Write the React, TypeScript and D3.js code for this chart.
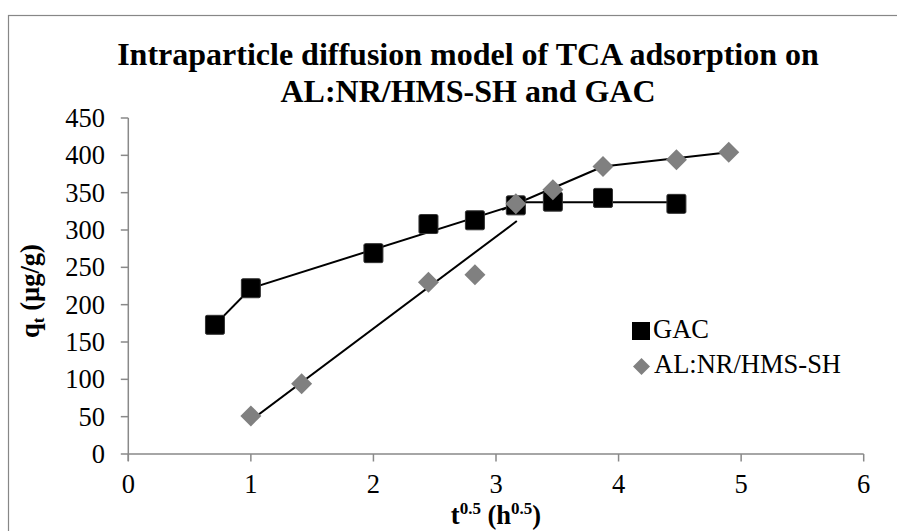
import React from "react";
import * as d3 from "d3";

const gacX = [0.707, 1, 2, 2.449, 2.828, 3.162, 3.464, 3.873, 4.472];
const gacY = [173, 222, 269, 308, 313, 333, 338, 343, 335];
const alX = [1, 1.414, 2.449, 2.828, 3.162, 3.464, 3.873, 4.472, 4.899];
const alY = [51, 94, 230, 240, 335, 354, 385, 394, 404];

// trend-line segments (start/end points)
const gacFitX = [[0.707, 1], [1, 3.162], [3.162, 4.472]];
const gacFitY = [[173, 222], [222, 334], [337, 337]];
const alFitX = [[1, 3.17], [3.05, 3.873], [3.873, 4.899]];
const alFitY = [[45, 312], [327, 385], [385, 404]];

const xTicks = [0, 1, 2, 3, 4, 5, 6];
const yTicks = [0, 50, 100, 150, 200, 250, 300, 350, 400, 450];

const titleLines = ["Intraparticle diffusion model of TCA adsorption on", "AL:NR/HMS-SH and GAC"];
const seriesNames = ["GAC", "AL:NR/HMS-SH"];

const W = 897;
const H = 531;
const FONT = "'Times New Roman', 'Liberation Serif', Tinos, 'DejaVu Serif', serif";
const AXIS = "#898989";
const TS = { fontFamily: FONT } as React.CSSProperties;

export default function App() {
  const x = d3.scaleLinear().domain([0, 6]).range([128.3, 863.7]);
  const y = d3.scaleLinear().domain([0, 450]).range([454, 118]);
  const line = d3
    .line<[number, number]>()
    .x((d) => x(d[0]))
    .y((d) => y(d[1]));

  const seg = (xs: number[], ys: number[]) =>
    line(xs.map((v, i) => [v, ys[i]] as [number, number])) || "";

  const sq = 19;
  const dm = 10.5;

  return (
    <svg
      width={W}
      height={H}
      style={{ position: "absolute", left: 0, top: 0, background: "#fff", fontFamily: FONT }}
    >
      <rect x={0} y={0} width={W} height={H} fill="#fff" />
      <rect x={8.5} y={15.5} width={1000} height={1000} fill="none" stroke="#878787" strokeWidth={1.2} />

      {/* title */}
      {titleLines.map((t, i) => (
        <text
          key={i}
          x={468}
          y={65 + i * 37}
          textAnchor="middle"
          fontWeight="bold"
          fontSize={32}
          fill="#000"
          style={TS}
        >
          {t}
        </text>
      ))}

      {/* axes */}
      <line x1={x(0)} x2={x(6)} y1={y(0)} y2={y(0)} stroke={AXIS} strokeWidth={1.5} />
      <line x1={x(0)} x2={x(0)} y1={y(450)} y2={y(0) + 7} stroke={AXIS} strokeWidth={1.5} />
      {xTicks.map((t) => (
        <g key={"xt" + t}>
          <line x1={x(t)} x2={x(t)} y1={y(0)} y2={y(0) + 7.5} stroke={AXIS} strokeWidth={1.5} />
          <text x={x(t)} y={493} textAnchor="middle" fontSize={26.5} fill="#000" style={TS}>
            {t}
          </text>
        </g>
      ))}
      {yTicks.map((t) => (
        <g key={"yt" + t}>
          <line x1={x(0) - 7.5} x2={x(0)} y1={y(t)} y2={y(t)} stroke={AXIS} strokeWidth={1.5} />
          <text x={105} y={y(t)} dy="0.34em" textAnchor="end" fontSize={26.5} fill="#000" style={TS}>
            {t}
          </text>
        </g>
      ))}

      {/* axis titles */}
      <text x={496} y={524} textAnchor="middle" fontWeight="bold" fontSize={26.5} fill="#000" style={TS}>
        t<tspan fontSize={17} dy={-10}>0.5</tspan>
        <tspan dy={10}> (h</tspan>
        <tspan fontSize={17} dy={-10}>0.5</tspan>
        <tspan dy={10}>)</tspan>
      </text>
      <text
        transform="translate(39,291) rotate(-90)"
        textAnchor="middle"
        fontWeight="bold"
        fontSize={26.5}
        fill="#000"
        style={TS}
      >
        q<tspan fontSize={17} dy={5}>t</tspan>
        <tspan dy={-5}> (µg/g)</tspan>
      </text>

      {/* trend lines */}
      {gacFitX.map((xs, i) => (
        <path key={"gf" + i} d={seg(xs, gacFitY[i])} stroke="#000" strokeWidth={2} fill="none" />
      ))}
      {alFitX.map((xs, i) => (
        <path key={"af" + i} d={seg(xs, alFitY[i])} stroke="#000" strokeWidth={2} fill="none" />
      ))}

      {/* GAC markers */}
      {gacX.map((v, i) => (
        <rect
          key={"g" + i}
          x={x(v) - sq / 2}
          y={y(gacY[i]) - sq / 2}
          width={sq}
          height={sq}
          rx={1.5}
          fill="#000"
          stroke="#333"
          strokeWidth={1}
        />
      ))}
      {/* AL markers */}
      {alX.map((v, i) => {
        const cx = x(v);
        const cy = y(alY[i]);
        return (
          <path
            key={"a" + i}
            d={`M${cx},${cy - dm}L${cx + dm},${cy}L${cx},${cy + dm}L${cx - dm},${cy}Z`}
            fill="#808080"
          />
        );
      })}

      {/* legend */}
      <rect x={632} y={322} width={18} height={18} fill="#000" />
      <text x={653} y={338} fontSize={26.5} fill="#000" style={TS}>
        {seriesNames[0]}
      </text>
      <path d={`M641.5,358L650,366.5L641.5,375L633,366.5Z`} fill="#808080" />
      <text x={654} y={373} fontSize={26.5} fill="#000" style={TS}>
        {seriesNames[1]}
      </text>
    </svg>
  );
}
